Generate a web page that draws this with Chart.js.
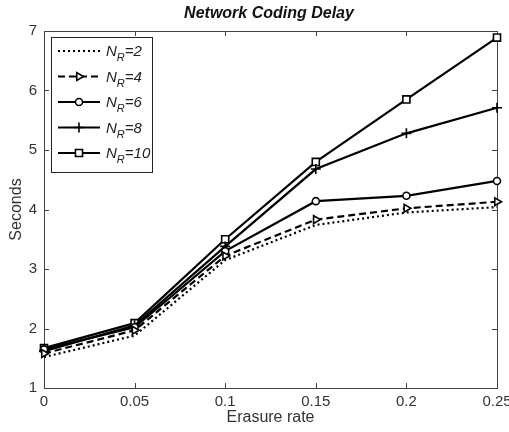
<!DOCTYPE html>
<html>
<head>
<meta charset="utf-8">
<script src="https://cdn.jsdelivr.net/npm/chart.js@4"></script>
<style>
html, body { margin: 0; padding: 0; background: #fff; }
#wrap { width: 509px; height: 432px; position: relative; }
</style>
</head>
<body>
<div id="wrap"><canvas id="delayChart"></canvas></div>
<script>
// valori
const ERASURE_RATES = [0, 0.05, 0.1, 0.15, 0.2, 0.25];
const DELAY_NR2 = [1.52, 1.88, 3.15, 3.74, 3.95, 4.04];
const DELAY_NR4 = [1.58, 1.97, 3.22, 3.83, 4.02, 4.13];
const DELAY_NR6 = [1.65, 2.02, 3.30, 4.14, 4.23, 4.48];
const DELAY_NR8 = [1.62, 2.05, 3.38, 4.68, 5.28, 5.71];
const DELAY_NR10 = [1.67, 2.09, 3.50, 4.80, 5.85, 6.89];
const SERIES_NR = ['2', '4', '6', '8', '10'];
const Y_TICKS = [1, 2, 3, 4, 5, 6, 7];
const X_TICKS = [0, 0.05, 0.1, 0.15, 0.2, 0.25];

const FONT = '"Liberation Sans", Arial, sans-serif';

function toPoints(values) {
    return ERASURE_RATES.map((x, i) => ({ x: x, y: values[i] }));
}

// stile di ogni serie (linea + marker)
const seriesStyles = [
    { dash: [2, 3], pointStyle: false, radius: 0 },
    { dash: [7, 4], pointStyle: 'triangle', radius: 4.5, rotation: 90 },
    { dash: [], pointStyle: 'circle', radius: 3.5 },
    { dash: [], pointStyle: 'cross', radius: 5 },
    { dash: [], pointStyle: 'rect', radius: 5 }
];
const seriesValues = [DELAY_NR2, DELAY_NR4, DELAY_NR6, DELAY_NR8, DELAY_NR10];

const datasets = seriesValues.map((vals, i) => {
    const st = seriesStyles[i];
    return {
        label: 'N_R=' + SERIES_NR[i],
        data: toPoints(vals),
        borderColor: '#000',
        backgroundColor: '#fff',
        borderWidth: 2.2,
        borderDash: st.dash,
        pointStyle: st.pointStyle,
        pointRadius: st.radius,
        pointRotation: st.rotation || 0,
        pointBorderColor: '#000',
        pointBackgroundColor: '#fff',
        pointBorderWidth: 1.6,
        tension: 0,
        clip: false
    };
});

// cornice, tacche interne, etichette, titoli e legenda stile MATLAB
const matlabFrame = {
    id: 'matlabFrame',
    beforeDatasetsDraw(chart) {
        const { ctx, chartArea: a, scales } = chart;
        ctx.save();
        ctx.strokeStyle = '#444';
        ctx.lineWidth = 1;
        ctx.strokeRect(a.left + 0.5, a.top + 0.5, a.right - a.left, a.bottom - a.top);
        ctx.beginPath();
        X_TICKS.forEach(v => {
            const px = Math.round(scales.x.getPixelForValue(v)) + 0.5;
            ctx.moveTo(px, a.bottom); ctx.lineTo(px, a.bottom - 5);
            ctx.moveTo(px, a.top); ctx.lineTo(px, a.top + 5);
        });
        Y_TICKS.forEach(v => {
            const py = Math.round(scales.y.getPixelForValue(v)) + 0.5;
            ctx.moveTo(a.left, py); ctx.lineTo(a.left + 5, py);
            ctx.moveTo(a.right, py); ctx.lineTo(a.right - 5, py);
        });
        ctx.stroke();

        // etichette asse x (disegnate qui per non restringere l'area del grafico)
        ctx.fillStyle = '#333';
        ctx.font = '15px ' + FONT;
        ctx.textAlign = 'center';
        ctx.textBaseline = 'top';
        X_TICKS.forEach(v => {
            ctx.fillText(String(v), scales.x.getPixelForValue(v), a.bottom + 6);
        });

        // titoli
        ctx.fillStyle = '#111';
        ctx.textBaseline = 'middle';
        ctx.font = 'italic bold 16px ' + FONT;
        ctx.fillText('Network Coding Delay', 269, 14);
        ctx.fillStyle = '#333';
        ctx.font = '16px ' + FONT;
        ctx.fillText('Erasure rate', (a.left + a.right) / 2, 418);
        ctx.translate(17, (a.top + a.bottom) / 2);
        ctx.rotate(-Math.PI / 2);
        ctx.fillText('Seconds', 0, 0);
        ctx.restore();
    },
    afterDraw(chart) {
        const { ctx } = chart;
        ctx.save();
        const bx = 51, by = 37, bw = 101, bh = 135;
        ctx.fillStyle = '#fff';
        ctx.fillRect(bx, by, bw, bh);
        ctx.strokeStyle = '#222';
        ctx.lineWidth = 1;
        ctx.strokeRect(bx + 0.5, by + 0.5, bw, bh);
        chart.data.datasets.forEach((ds, i) => {
            const y = 51 + i * 25.5;
            ctx.strokeStyle = '#000';
            ctx.lineWidth = 2.2;
            ctx.setLineDash(ds.borderDash);
            ctx.beginPath();
            ctx.moveTo(58, y); ctx.lineTo(100, y);
            ctx.stroke();
            ctx.setLineDash([]);
            if (ds.pointStyle) {
                ctx.fillStyle = '#fff';
                ctx.lineWidth = ds.pointBorderWidth;
                Chart.helpers.drawPoint(ctx, {
                    pointStyle: ds.pointStyle,
                    radius: ds.pointRadius,
                    rotation: ds.pointRotation,
                    borderWidth: ds.pointBorderWidth
                }, 79, y);
            }
            // testo con pedice
            ctx.fillStyle = '#222';
            ctx.textAlign = 'left';
            ctx.textBaseline = 'alphabetic';
            ctx.font = 'italic 15px ' + FONT;
            let tx = 106;
            ctx.fillText('N', tx, y + 5);
            tx += ctx.measureText('N').width;
            ctx.font = 'italic 11px ' + FONT;
            ctx.fillText('R', tx, y + 10);
            tx += ctx.measureText('R').width;
            ctx.font = 'italic 15px ' + FONT;
            ctx.fillText('=' + SERIES_NR[i], tx, y + 5);
        });
        ctx.restore();
    }
};

new Chart(document.getElementById('delayChart'), {
    type: 'line',
    data: { datasets: datasets },
    options: {
        responsive: true,
        maintainAspectRatio: false,
        animation: false,
        layout: { padding: { left: 0, top: 31, right: 12, bottom: 0 } },
        plugins: {
            legend: { display: false },
            title: { display: false },
            tooltip: { enabled: false }
        },
        scales: {
            x: {
                type: 'linear',
                min: 0,
                max: 0.25,
                afterBuildTicks: s => { s.ticks = X_TICKS.map(v => ({ value: v })); },
                afterFit: s => { s.height = 44; },
                grid: { display: false, drawTicks: false },
                border: { display: false },
                ticks: { display: false }
            },
            y: {
                min: 1,
                max: 7,
                afterBuildTicks: s => { s.ticks = Y_TICKS.map(v => ({ value: v })); },
                afterFit: s => { s.width = 44; },
                grid: { display: false, drawTicks: false },
                border: { display: false },
                ticks: {
                    padding: 7,
                    color: '#333',
                    font: { family: FONT, size: 15 }
                }
            }
        }
    },
    plugins: [matlabFrame]
});
</script>
</body>
</html>
